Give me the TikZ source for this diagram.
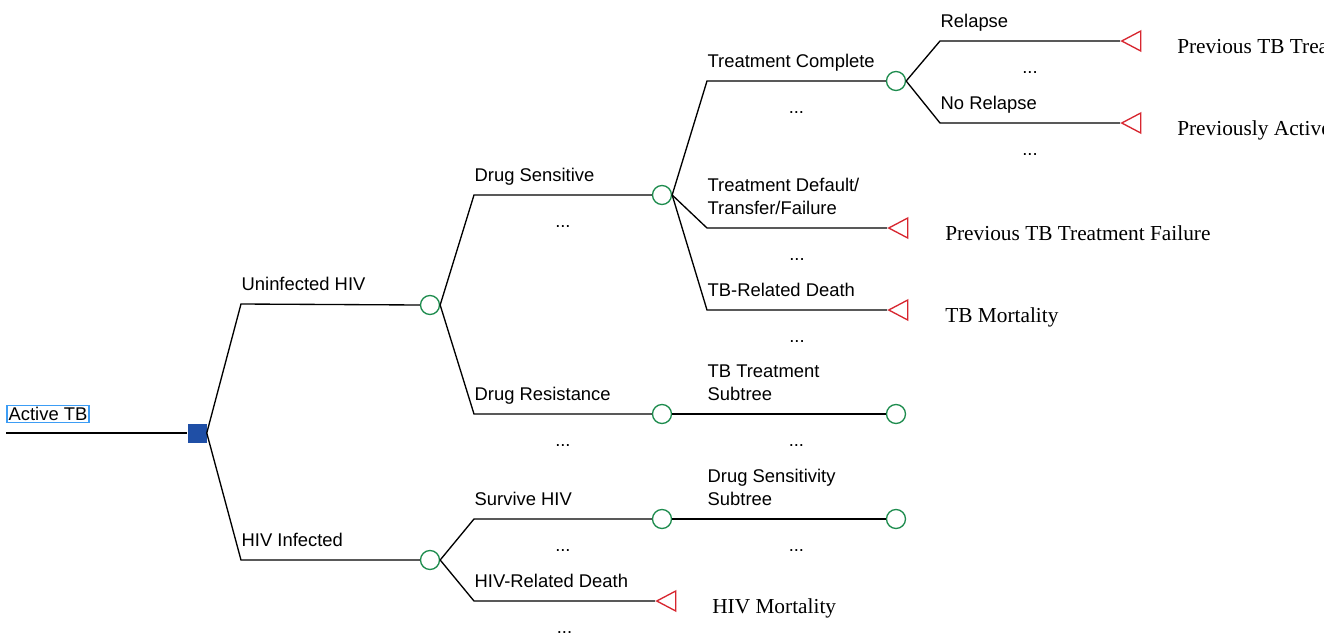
\documentclass[tikz,border=0pt]{standalone}
\usepackage{fontspec}
\setmainfont{Liberation Serif}
\setsansfont{Liberation Sans}
\usetikzlibrary{shapes.geometric, positioning}
\definecolor{decblue}{HTML}{1F4FA6}
\definecolor{chgreen}{HTML}{1E8C4E}
\definecolor{endred}{HTML}{D7262F}
\definecolor{boxblue}{HTML}{3D9DF5}
\tikzset{
  decision/.style={rectangle, fill=decblue, minimum size=14.25pt, inner sep=0pt},
  chance/.style={circle, draw=chgreen, line width=1pt, minimum size=14.25pt, inner sep=0pt},
  terminal/.style={isosceles triangle, shape border rotate=180, isosceles triangle stretches,
    draw=endred, line width=1pt, minimum width=15pt, minimum height=14.25pt, inner sep=0pt},
  limb/.style={line width=1pt},
  branch/.style={font=\sffamily\fontsize{13.8pt}{17.25pt}\selectfont, align=left,
    anchor=base west, inner sep=0pt, yshift=10.5pt},
  dots/.style={font=\sffamily\fontsize{13.8pt}{17.25pt}\selectfont, anchor=base,
    inner sep=0pt, yshift=-24pt},
  outcome/.style={font=\rmfamily\fontsize{16pt}{19pt}\selectfont, anchor=base west, inner sep=0pt}
}
\begin{document}
\begin{tikzpicture}[x=0.75pt, y=-0.75pt]
  \useasboundingbox (0,0) rectangle (1340,636);
  \clip (0,0) rectangle (1323,636);
  % Root and decision node
  \node[draw=boxblue, line width=1pt, inner sep=1.2pt, font=\sffamily\fontsize{13.8pt}{17.25pt}\selectfont] (root) at (48,414) {Active TB};
  \node[decision] (dec) at (197,433) {};
  \draw[limb] (root.south west |- dec.west) -- (dec.west);

  % Chance nodes
  \node[chance] (cu) at (430,305) {};
  \node[chance] (ch) at (430,560) {};
  \node[chance] (cs) at (662,195) {};
  \node[chance] (cr) at (662,414) {};
  \node[chance] (cv) at (662,519) {};
  \node[chance] (cc) at (896,81) {};
  \node[chance] (ct) at (896,414) {};
  \node[chance] (cd) at (896,519) {};

  % Terminal nodes
  \node[terminal, anchor=apex] (tr) at (1120,41) {};
  \node[terminal, anchor=apex] (tn) at (1120,123) {};
  \node[terminal, anchor=apex] (tf) at (887,228) {};
  \node[terminal, anchor=apex] (tb) at (887,310) {};
  \node[terminal, anchor=apex] (th) at (655,601) {};

  % Elbows
  \coordinate (eu) at (241,304);
  \coordinate (eh) at (241,560);
  \coordinate (es) at (474,195);
  \coordinate (er) at (474,414);
  \coordinate (ev) at (474,519);
  \coordinate (ed) at (474,601);
  \coordinate (ec) at (707,81);
  \coordinate (ef) at (707,228);
  \coordinate (eb) at (707,310);
  \coordinate (et) at (707,414);
  \coordinate (ey) at (707,519);
  \coordinate (erl) at (940,41);
  \coordinate (enr) at (940,123);

  % Branches
  \draw[limb] (dec.east) -- (eu) -- (cu.west) node[pos=0, branch] (lu) {Uninfected HIV};
  \draw[limb] (dec.east) -- (eh) -- (ch.west) node[pos=0, branch] (lh) {HIV Infected};
  \draw[limb] (cu.east) -- (es) -- (cs.west) node[pos=0, branch] (ls) {Drug Sensitive} node[midway, dots] (ds) {...};
  \draw[limb] (cu.east) -- (er) -- (cr.west) node[pos=0, branch] (lr) {Drug Resistance} node[midway, dots] (dr) {...};
  \draw[limb] (ch.east) -- (ev) -- (cv.west) node[pos=0, branch] (lv) {Survive HIV} node[midway, dots] (dv) {...};
  \draw[limb] (ch.east) -- (ed) -- (th.apex) node[pos=0, branch] (ld) {HIV-Related Death} node[midway, dots] (dd) {...};
  \draw[limb] (cs.east) -- (ec) -- (cc.west) node[pos=0, branch] (lc) {Treatment Complete} node[midway, dots] (dc) {...};
  \draw[limb] (cs.east) -- (ef) -- (tf.apex) node[pos=0, branch] (lf) {Treatment Default/\\Transfer/Failure} node[midway, dots] (df) {...};
  \draw[limb] (cs.east) -- (eb) -- (tb.apex) node[pos=0, branch] (lb) {TB-Related Death} node[midway, dots] (db) {...};
  \draw[limb] (cr.east) -- (et) -- (ct.west) node[pos=0, branch] (lt) {TB Treatment\\Subtree} node[midway, dots] (dt) {...};
  \draw[limb] (cv.east) -- (ey) -- (cd.west) node[pos=0, branch] (ly) {Drug Sensitivity\\Subtree} node[midway, dots] (dy) {...};
  \draw[limb] (cc.east) -- (erl) -- (tr.apex) node[pos=0, branch] (lrl) {Relapse} node[midway, dots] (drl) {...};
  \draw[limb] (cc.east) -- (enr) -- (tn.apex) node[pos=0, branch] (lnr) {No Relapse} node[midway, dots] (dnr) {...};

  % Outcomes
  \node[outcome] (orl) at (1177,53) {Previous TB Treatment};
  \node[outcome] (onr) at (1177,135) {Previously Active TB};
  \node[outcome] (of) at (945,240) {Previous TB Treatment Failure};
  \node[outcome] (ob) at (945,322) {TB Mortality};
  \node[outcome] (oh) at (712,613) {HIV Mortality};
\end{tikzpicture}
\end{document}
